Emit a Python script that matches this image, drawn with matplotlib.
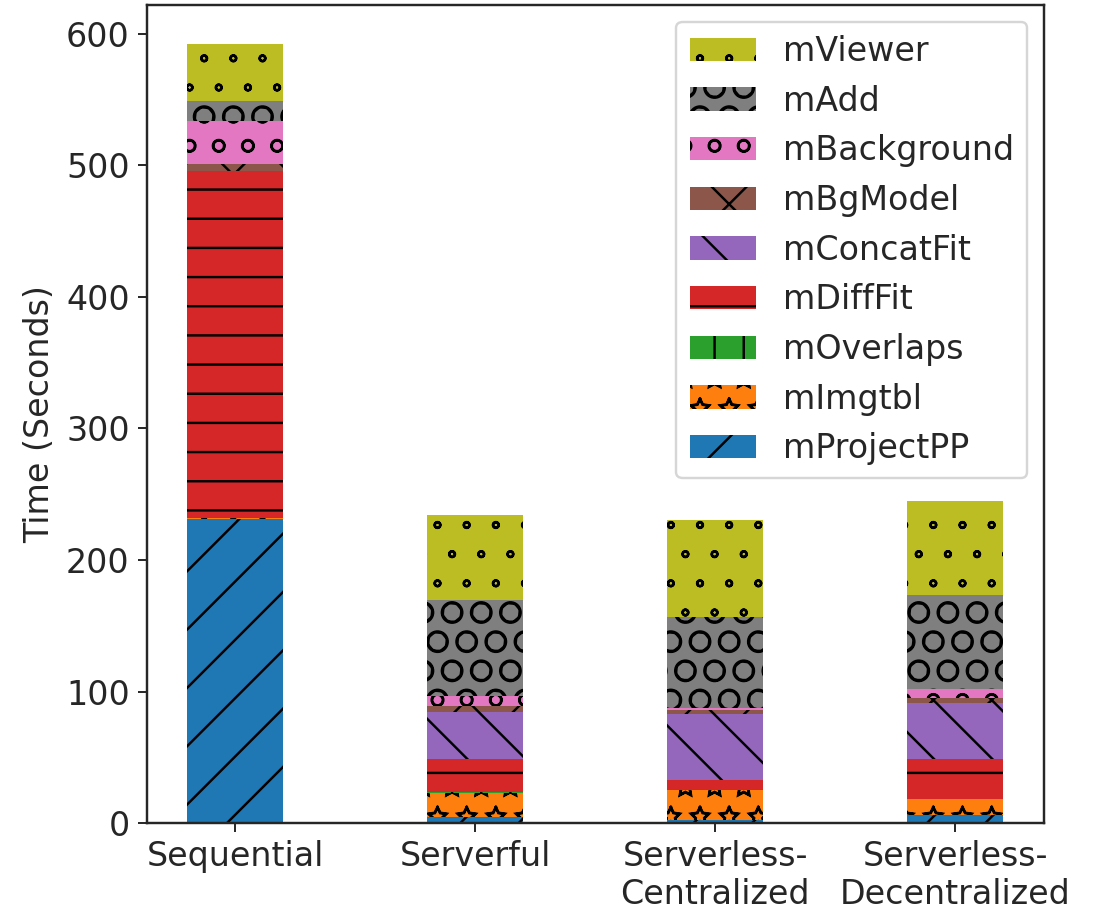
import matplotlib
matplotlib.use("Agg")
import matplotlib.hatch
import matplotlib.pyplot as plt
import numpy as np

# Per-stage execution time (seconds) for each deployment mode
modes = ["Sequential", "Serverful", "Serverless-\nCentralized", "Serverless-\nDecentralized"]
stages = ["mProjectPP", "mImgtbl", "mOverlaps", "mDiffFit", "mConcatFit",
          "mBgModel", "mBackground", "mAdd", "mViewer"]

mProjectPP = [231.5, 4.6, 2.5, 6.3]
mImgtbl = [0.5, 18.6, 22.5, 11.9]
mOverlaps = [0.3, 0.6, 0.3, 0.6]
mDiffFit = [263.3, 24.8, 7.3, 29.8]
mConcatFit = [0.3, 35.9, 50.1, 43.0]
mBgModel = [4.9, 4.6, 3.6, 3.3]
mBackground = [33.1, 7.6, 1.5, 6.9]
mAdd = [15.0, 72.9, 69.3, 71.6]
mViewer = [43.3, 64.3, 73.5, 71.6]

times = [mProjectPP, mImgtbl, mOverlaps, mDiffFit, mConcatFit,
         mBgModel, mBackground, mAdd, mViewer]
hatches = ["/", "*", "|", "-", "\\", "x", "o", "O", "."]
colors = ["C%d" % i for i in range(9)]

# draw stars and small dots as outlines instead of solid shapes
matplotlib.hatch.Stars.filled = False
matplotlib.hatch.SmallFilledCircles.filled = False

plt.rcParams["font.size"] = 13.7
plt.rcParams["hatch.color"] = "black"
plt.rcParams["hatch.linewidth"] = 1.0
plt.rcParams["text.color"] = ".15"
plt.rcParams["axes.labelcolor"] = ".15"
plt.rcParams["xtick.color"] = ".15"
plt.rcParams["ytick.color"] = ".15"
plt.rcParams["axes.edgecolor"] = ".15"
plt.rcParams["axes.linewidth"] = 1.0

fig = plt.figure(figsize=(1101 / 175, 912 / 175), dpi=175)
ax = fig.add_axes([0.1332, 0.0973, 0.9482 - 0.1332, 0.9945 - 0.0973])

x = np.arange(len(modes))
bottom = np.zeros(len(modes))
for name, vals, h, c in zip(stages, times, hatches, colors):
    ax.bar(x, vals, 0.4, bottom=bottom, color=c, hatch=h, linewidth=0, label=name)
    bottom += np.array(vals)

ax.set_xticks(x)
ax.set_xticklabels(modes)
ax.set_ylabel("Time (Seconds)")

handles, labels = ax.get_legend_handles_labels()
ax.legend(handles[::-1], labels[::-1], loc="upper right")

fig.savefig("out.png", dpi=175)
